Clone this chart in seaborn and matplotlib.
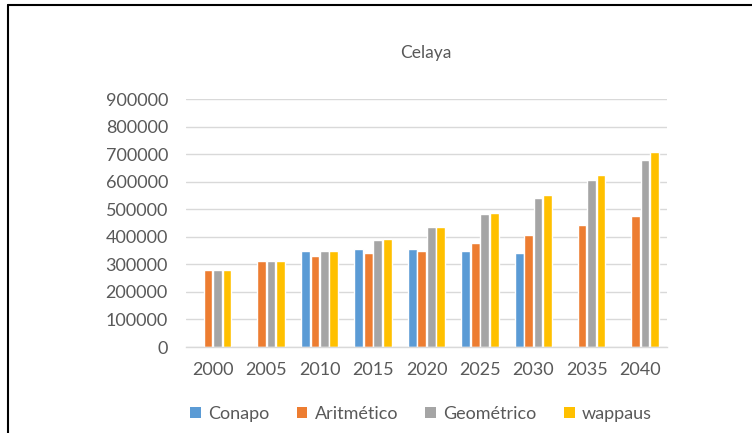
import matplotlib
matplotlib.use("Agg")
import matplotlib.pyplot as plt
import seaborn as sns
import pandas as pd
import numpy as np
from matplotlib.patches import Patch
from matplotlib.lines import Line2D

years = ["2000", "2005", "2010", "2015", "2020", "2025", "2030", "2035", "2040"]
series_names = ["Conapo", "Aritmético", "Geométrico", "wappaus"]
conapo = [np.nan, np.nan, 347000, 354000, 354000, 349000, 341000, np.nan, np.nan]
aritmetico = [279000, 311000, 332000, 342000, 347000, 377000, 408000, 444000, 475000]
geometrico = [279000, 311000, 350000, 390000, 435000, 483000, 542000, 607000, 678000]
wappaus = [279000, 311000, 350000, 391000, 435000, 487000, 551000, 623000, 706000]
colors = ["#5B9BD5", "#ED7D31", "#A5A5A5", "#FFC000"]
yticks = [0, 100000, 200000, 300000, 400000, 500000, 600000, 700000, 800000, 900000]

rows = []
for name, vals in zip(series_names, [conapo, aritmetico, geometrico, wappaus]):
    for y, v in zip(years, vals):
        rows.append({"year": y, "serie": name, "value": v})
df = pd.DataFrame(rows)

sns.set_theme(style="white")
plt.rcParams["font.family"] = ["Lato", "DejaVu Sans"]

fig = plt.figure(figsize=(7.52, 4.33), dpi=100)
ax = fig.add_axes([186/752, 1-347/433, (667-186)/752, (347-99)/433])

sns.barplot(data=df, x="year", y="value", hue="serie", order=years,
            hue_order=series_names, palette=colors, width=0.71, gap=0.08,
            errorbar=None, ax=ax, legend=False, saturation=1)

ax.set_ylim(0, 900000)
ax.set_yticks(yticks)
ax.set_yticklabels([str(t) for t in yticks])
ax.set_xlabel("")
ax.set_ylabel("")
ax.yaxis.grid(True, color="#D9D9D9", linewidth=1)
ax.set_axisbelow(True)
for s in ["top", "right", "left"]:
    ax.spines[s].set_visible(False)
ax.spines["bottom"].set_color("#D9D9D9")
ax.spines["bottom"].set_linewidth(1)
ax.tick_params(axis="y", length=0, pad=13, labelsize=13, labelcolor="#595959")
ax.tick_params(axis="x", length=0, pad=11, labelsize=13, labelcolor="#595959")

fig.text(426/752, 1-53/433, "Celaya", ha="center", va="center",
         fontsize=12.5, color="#595959")

handles = [Patch(facecolor=c, edgecolor="none", label=n) for c, n in zip(colors, series_names)]
fig.legend(handles=handles, loc="center", bbox_to_anchor=(421/752, 1-414/433),
           ncol=4, frameon=False, fontsize=13, labelcolor="#595959",
           handlelength=0.6, handleheight=0.6, handletextpad=0.4, columnspacing=1.5)

# outer frame (top and left edges visible)
fig.add_artist(Line2D([8/752, 1.0], [1-5/433, 1-5/433], transform=fig.transFigure,
                      color="black", linewidth=1.5))
fig.add_artist(Line2D([8/752, 8/752], [0.0, 1-5/433], transform=fig.transFigure,
                      color="black", linewidth=1.5))

fig.savefig("out.png", dpi=100, facecolor="white")
